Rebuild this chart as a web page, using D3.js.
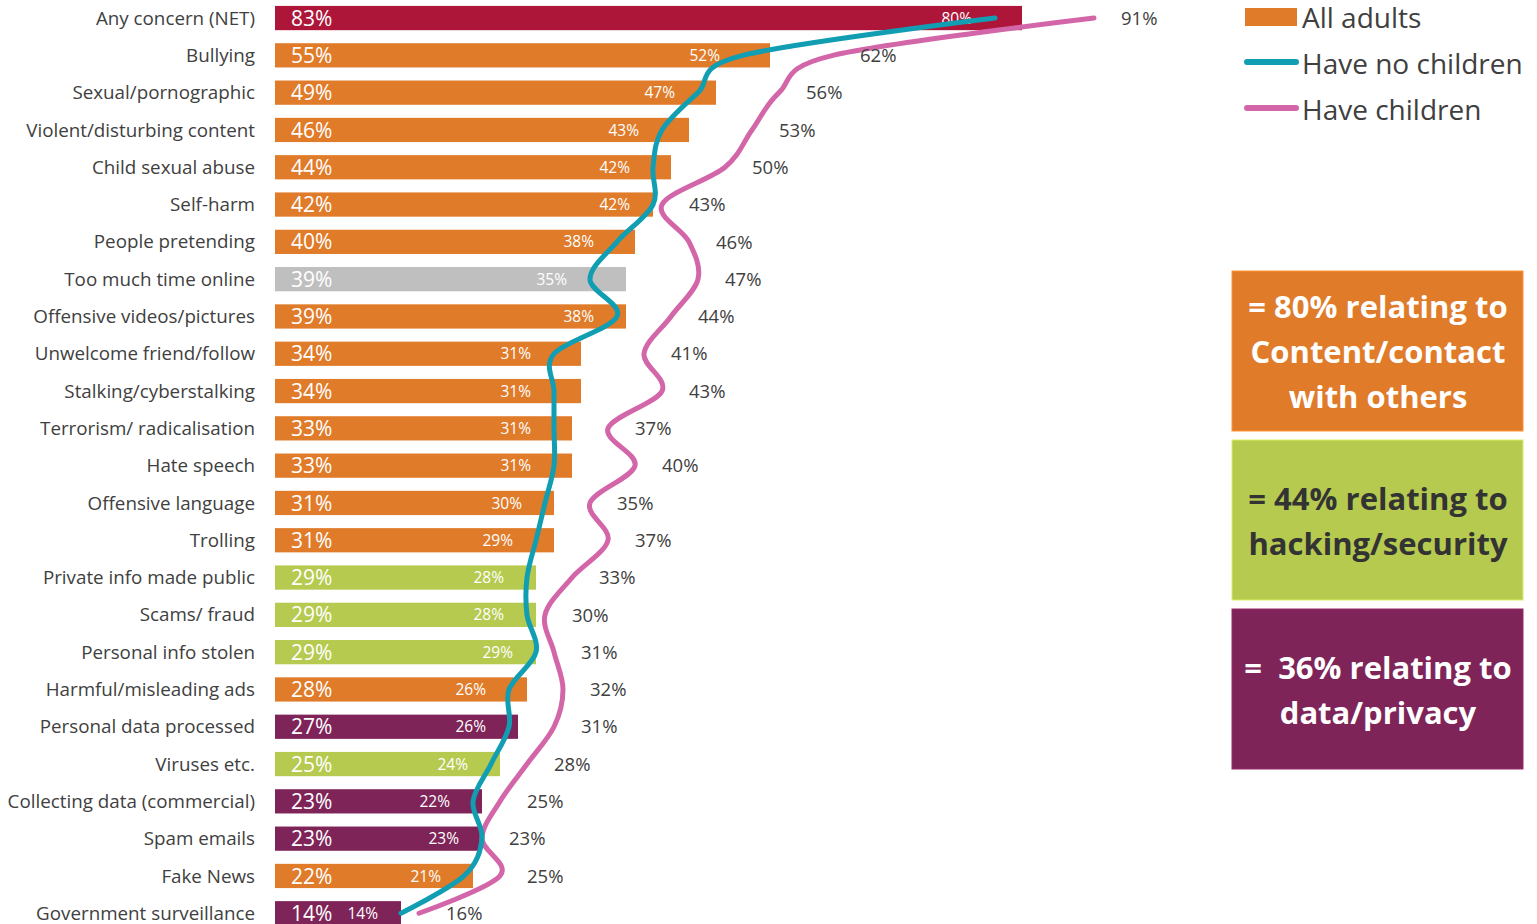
<!DOCTYPE html>
<html>
<head>
<meta charset="utf-8">
<script src="https://cdn.jsdelivr.net/npm/d3@7"></script>
<style>
  body { margin: 0; background: #fff; }
  svg { display: block; }
</style>
</head>
<body>
<div id="root"></div>
<script>
var categories = ["Any concern (NET)", "Bullying", "Sexual/pornographic", "Violent/disturbing content",
  "Child sexual abuse", "Self-harm", "People pretending", "Too much time online",
  "Offensive videos/pictures", "Unwelcome friend/follow", "Stalking/cyberstalking",
  "Terrorism/ radicalisation", "Hate speech", "Offensive language", "Trolling",
  "Private info made public", "Scams/ fraud", "Personal info stolen", "Harmful/misleading ads",
  "Personal data processed", "Viruses etc.", "Collecting data (commercial)", "Spam emails",
  "Fake News", "Government surveillance"];
var allAdults = [83, 55, 49, 46, 44, 42, 40, 39, 39, 34, 34, 33, 33, 31, 31, 29, 29, 29, 28, 27, 25, 23, 23, 22, 14];
var noChildren = [80, 52, 47, 43, 42, 42, 38, 35, 38, 31, 31, 31, 31, 30, 29, 28, 28, 29, 26, 26, 24, 22, 23, 21, 14];
var haveChildren = [91, 62, 56, 53, 50, 43, 46, 47, 44, 41, 43, 37, 40, 35, 37, 33, 30, 31, 32, 31, 28, 25, 23, 25, 16];
var groups = ["net", "content", "content", "content", "content", "content", "content", "time",
  "content", "content", "content", "content", "content", "content", "content",
  "security", "security", "security", "content", "privacy", "security", "privacy", "privacy",
  "content", "privacy"];
var legendLabels = ["All adults", "Have no children", "Have children"];
var boxLines = [
  ["= 80% relating to", "Content/contact", "with others"],
  ["= 44% relating to", "hacking/security"],
  ["=  36% relating to", "data/privacy"]
];

var colors = {
  net: "#AD1639", content: "#E07B2A", time: "#BFBFBF",
  security: "#B5CA4F", privacy: "#7E2458"
};
var teal = "#119EB3", pink = "#D366A9";
var textColor = "#404040";
var font = "'Open Sans', sans-serif";

var width = 1537, height = 924;
var svg = d3.select("#root").append("svg")
  .attr("width", width).attr("height", height)
  .style("font-family", font);

var x = d3.scaleLinear().domain([0, 100]).range([275, 1175]);
var y = d3.scaleBand().domain(categories).range([-0.6, 931.9]).paddingInner(0.35).paddingOuter(0.175);
var cy = function (c) { return y(c) + y.bandwidth() / 2; };

// bars
svg.append("g").selectAll("rect")
  .data(categories).enter().append("rect")
  .attr("x", x(0))
  .attr("y", function (d) { return y(d); })
  .attr("width", function (d, i) { return x(allAdults[i]) - x(0); })
  .attr("height", y.bandwidth())
  .attr("fill", function (d, i) { return colors[groups[i]]; });

// category labels
svg.append("g").selectAll("text")
  .data(categories).enter().append("text")
  .attr("x", 255)
  .attr("y", function (d) { return cy(d); })
  .attr("dy", "0.35em")
  .attr("text-anchor", "end")
  .attr("fill", textColor)
  .style("font-size", "18.8px")
  .text(function (d) { return d; });

// all adults value labels
svg.append("g").selectAll("text")
  .data(categories).enter().append("text")
  .attr("x", x(0) + 16)
  .attr("y", function (d) { return cy(d); })
  .attr("dy", "0.36em")
  .attr("fill", "#fff")
  .style("font-size", "21px")
  .text(function (d, i) { return allAdults[i] + "%"; });

// lines
var line = d3.line()
  .x(function (d) { return x(d.v); })
  .y(function (d) { return cy(d.c); })
  .curve(d3.curveCardinal.tension(0));

var tealData = categories.map(function (c, i) { return { c: c, v: noChildren[i] }; });
var pinkData = categories.map(function (c, i) { return { c: c, v: haveChildren[i] }; });

// no children labels (inside bars)
svg.append("g").selectAll("text")
  .data(tealData).enter().append("text")
  .attr("x", function (d) { return x(d.v) - 23; })
  .attr("y", function (d) { return cy(d.c); })
  .attr("dy", "0.36em")
  .attr("text-anchor", "end")
  .attr("fill", "#fff")
  .style("font-size", "15.5px")
  .text(function (d) { return d.v + "%"; });

svg.append("path").datum(pinkData)
  .attr("d", line).attr("fill", "none")
  .attr("stroke", pink).attr("stroke-width", 5).attr("stroke-linecap", "round");

svg.append("path").datum(tealData)
  .attr("d", line).attr("fill", "none")
  .attr("stroke", teal).attr("stroke-width", 5).attr("stroke-linecap", "round");

// have children labels
svg.append("g").selectAll("text")
  .data(pinkData).enter().append("text")
  .attr("x", function (d) { return x(d.v) + 27; })
  .attr("y", function (d) { return cy(d.c); })
  .attr("dy", "0.36em")
  .attr("fill", textColor)
  .style("font-size", "18.5px")
  .text(function (d) { return d.v + "%"; });

// legend
var legend = svg.append("g").attr("transform", "translate(1245,0)");
legend.append("rect").attr("x", 0).attr("y", 8).attr("width", 52).attr("height", 18).attr("fill", colors.content);
legend.append("line").attr("x1", 2).attr("x2", 51).attr("y1", 62).attr("y2", 62)
  .attr("stroke", teal).attr("stroke-width", 6).attr("stroke-linecap", "round");
legend.append("line").attr("x1", 2).attr("x2", 51).attr("y1", 108).attr("y2", 108)
  .attr("stroke", pink).attr("stroke-width", 6).attr("stroke-linecap", "round");
legend.selectAll("text").data(legendLabels).enter().append("text")
  .attr("x", 57)
  .attr("y", function (d, i) { return 18 + i * 46; })
  .attr("dy", "0.36em")
  .attr("fill", textColor)
  .style("font-size", "28px")
  .text(function (d) { return d; });

// group boxes
var boxFill = [colors.content, colors.security, colors.privacy];
var boxText = ["#fff", "#333333", "#fff"];
var boxTop = [271, 440, 609];
boxLines.forEach(function (lines, b) {
  var g = svg.append("g");
  g.append("rect").attr("x", 1232).attr("y", boxTop[b]).attr("width", 291).attr("height", 160)
    .attr("fill", boxFill[b]).attr("stroke", d3.color(boxFill[b]).brighter(0.5)).attr("stroke-width", 1);
  var start = boxTop[b] + 81 - (lines.length - 1) * 45 / 2;
  g.selectAll("text").data(lines).enter().append("text")
    .attr("x", 1378)
    .attr("y", function (d, i) { return start + i * 45; })
    .attr("dy", "0.36em")
    .attr("text-anchor", "middle")
    .attr("fill", boxText[b])
    .style("font-size", "31px")
    .style("font-weight", "bold")
    .style("white-space", "pre")
    .text(function (d) { return d; });
});
</script>
</body>
</html>
